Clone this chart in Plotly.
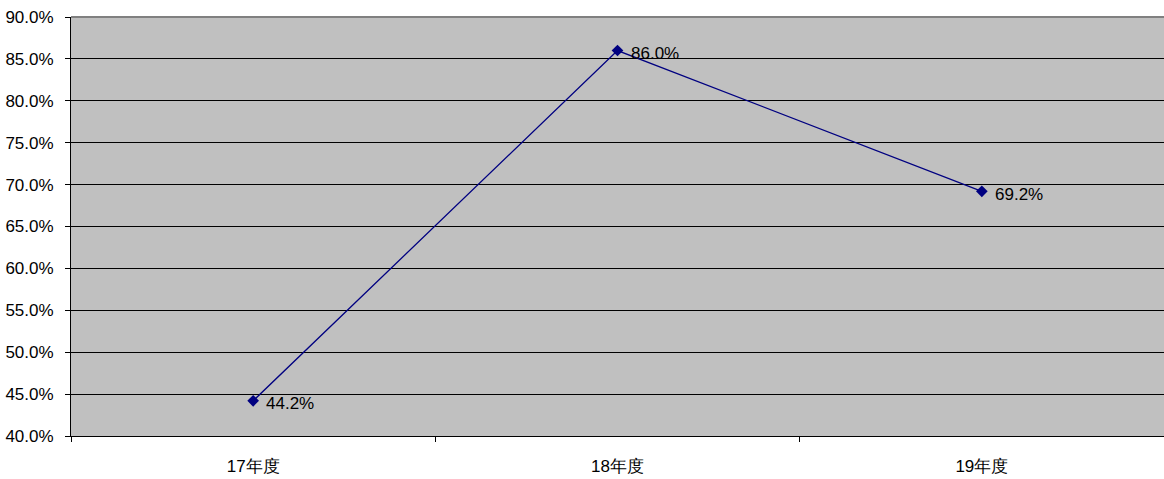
import plotly.graph_objects as go

# Yearly rate series
years = ["17年度", "18年度", "19年度"]
rates = [44.2, 86.0, 69.2]
y_ticks = [40, 45, 50, 55, 60, 65, 70, 75, 80, 85, 90]

NAVY = "#000080"
FONT = "Liberation Sans, Arial, sans-serif"

fig = go.Figure()
fig.add_trace(go.Scatter(
    x=years, y=rates,
    mode="lines+markers",
    line=dict(color=NAVY, width=1.3),
    marker=dict(symbol="diamond", size=9, color=NAVY),
    hoverinfo="skip",
))

# Value labels sit just to the right of each point
for yr, v in zip(years, rates):
    fig.add_annotation(
        x=yr, y=v, text=f"{v:.1f}%",
        showarrow=False, xanchor="left", yanchor="middle",
        xshift=11, yshift=-3,
        font=dict(family=FONT, size=17, color="#000000"),
    )

fig.update_layout(
    width=1164, height=479,
    margin=dict(l=71, r=0, t=17, b=43),
    paper_bgcolor="#FFFFFF",
    plot_bgcolor="#C0C0C0",
    showlegend=False,
    font=dict(family=FONT, size=17, color="#000000"),
)
fig.update_xaxes(
    type="category",
    range=[-0.5, 2.5],
    showgrid=False,
    showline=True, linecolor="#000000", linewidth=1,
    ticks="outside", tickson="boundaries", ticklen=5, tickcolor="#000000",
    tickfont=dict(family=FONT, size=17),
    ticklabelstandoff=15,
)
fig.update_yaxes(
    range=[40, 90],
    tickvals=y_ticks,
    ticktext=[f"{v:.1f}%" for v in y_ticks],
    showgrid=True, gridcolor="#000000", gridwidth=1,
    zeroline=False,
    showline=True, linecolor="#000000", linewidth=1,
    ticks="outside", ticklen=5, tickcolor="#000000",
    tickfont=dict(family=FONT, size=17),
    ticklabelstandoff=8,
)
# Grey frame edge along the top of the plot area
fig.add_shape(type="line", xref="paper", yref="paper", x0=0, x1=1, y0=1, y1=1,
              line=dict(color="#808080", width=2))

fig.write_html("out.html")
